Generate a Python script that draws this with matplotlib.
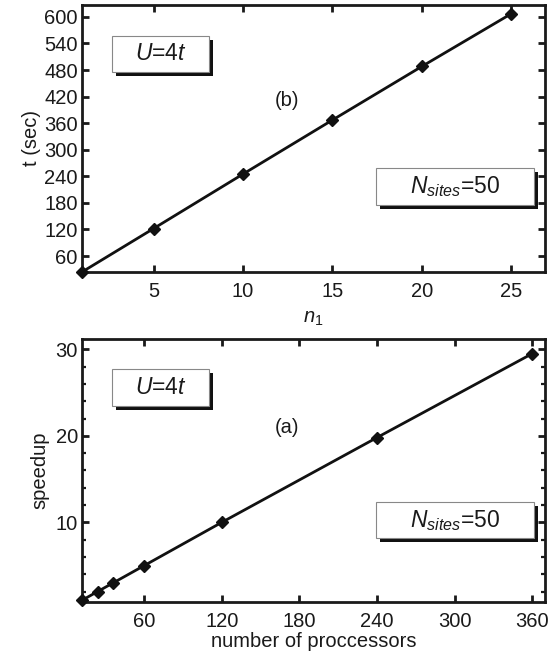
import matplotlib
matplotlib.use("Agg")
import matplotlib.pyplot as plt
from matplotlib.patches import Rectangle
from matplotlib.ticker import MultipleLocator
import matplotlib.transforms as mtransforms

plt.rcParams['font.family'] = ['Liberation Sans', 'DejaVu Sans']
plt.rcParams['mathtext.fontset'] = 'custom'
plt.rcParams['mathtext.rm'] = 'Liberation Sans'
plt.rcParams['mathtext.it'] = 'Liberation Sans:italic'
plt.rcParams['mathtext.bf'] = 'Liberation Sans:bold'

# Panel (b): time vs n1
n1 = [1, 5, 10, 15, 20, 25]
t_sec = [24, 122, 245, 367, 488, 607]
b_xticks = [5, 10, 15, 20, 25]
b_yticks = [60, 120, 180, 240, 300, 360, 420, 480, 540, 600]

# Panel (a): speedup vs processors
procs = [12, 24, 36, 60, 120, 240, 360]
speedup = [1, 2, 3, 5, 10, 19.8, 29.5]
a_xticks = [60, 120, 180, 240, 300, 360]
a_yticks = [10, 20, 30]

FS = 14.5

fig = plt.figure(figsize=(5.54, 6.66), dpi=100)
axb = fig.add_axes([0.148, 0.5916, 0.836, 0.401])
axa = fig.add_axes([0.148, 0.0961, 0.836, 0.395])

def style(ax):
    for s in ax.spines.values():
        s.set_linewidth(2.0)
        s.set_color('#1a1a1a')
    ax.tick_params(which='both', direction='in', top=True, right=True,
                   labelsize=FS, width=2.0, colors='#1a1a1a',
                   labelcolor='#1a1a1a')
    ax.tick_params(axis='x', pad=7)
    ax.tick_params(axis='y', pad=3)
    ax.tick_params(which='major', length=5)
    ax.tick_params(which='minor', length=3, width=1.6)

def box(ax, x0, y0, x1, y1, txt):
    off = mtransforms.ScaledTranslation(0.04, -0.04, fig.dpi_scale_trans)
    sh = Rectangle((x0, y0), x1 - x0, y1 - y0, transform=ax.transAxes + off,
                   facecolor='#111111', edgecolor='#111111', lw=0, zorder=5)
    ax.add_patch(sh)
    r = Rectangle((x0, y0), x1 - x0, y1 - y0, transform=ax.transAxes,
                  facecolor='white', edgecolor='#888888', lw=0.8, zorder=6)
    ax.add_patch(r)
    ax.text((x0 + x1) / 2, (y0 + y1) / 2, txt, transform=ax.transAxes,
            ha='center', va='center', fontsize=16.5, color='#1a1a1a', zorder=7)

# panel b
axb.plot(n1, t_sec, color='#111111', lw=2.0, marker='D', ms=6.5,
         clip_on=False, zorder=4)
axb.set_xlim(1, 26.9)
axb.set_ylim(24, 627)
axb.set_xticks(b_xticks)
axb.set_yticks(b_yticks)
style(axb)
axb.set_ylabel('t (sec)', fontsize=FS, labelpad=2, color='#1a1a1a')
axb.set_xlabel('$n_1$', fontsize=FS, labelpad=6, color='#1a1a1a')
axb.text(0.443, 0.644, '(b)', transform=axb.transAxes, ha='center',
         va='center', fontsize=FS, color='#1a1a1a')
box(axb, 0.0645, 0.749, 0.275, 0.884, '$U$=4$t$')
box(axb, 0.634, 0.251, 0.976, 0.390, '$N_{sites}$=50')

# panel a
axa.plot(procs, speedup, color='#111111', lw=2.0, marker='D', ms=6.5,
         clip_on=False, zorder=4)
axa.set_xlim(12, 370)
axa.set_ylim(0.8, 31.2)
axa.set_xticks(a_xticks)
axa.set_yticks(a_yticks)
axa.yaxis.set_minor_locator(MultipleLocator(2))
style(axa)
axa.set_ylabel('speedup', fontsize=FS, labelpad=4, color='#1a1a1a')
axa.set_xlabel('number of proccessors', fontsize=FS, labelpad=1, color='#1a1a1a')
axa.text(0.443, 0.665, '(a)', transform=axa.transAxes, ha='center',
         va='center', fontsize=FS, color='#1a1a1a')
box(axa, 0.0645, 0.745, 0.275, 0.886, '$U$=4$t$')
box(axa, 0.634, 0.243, 0.976, 0.380, '$N_{sites}$=50')

fig.savefig('out.png', dpi=100)
